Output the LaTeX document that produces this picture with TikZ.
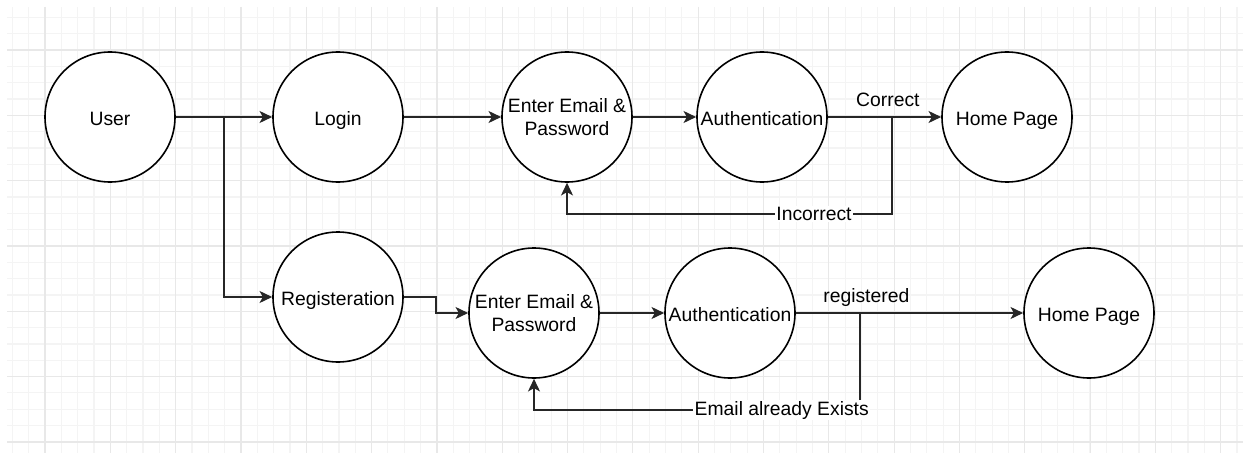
\documentclass[tikz,border=0pt]{standalone}
\usepackage{fontspec}
\setmainfont{Liberation Sans}
\usetikzlibrary{calc,arrows.meta}
\definecolor{gridminor}{HTML}{F4F4F4}
\definecolor{gridmajor}{HTML}{E8E8E8}
\tikzset{state/.style={circle, draw=black, line width=1.2pt, fill=white,
           minimum size=97.5pt, inner sep=0pt, align=center,
           text height=12pt, text depth=0pt,
           font=\fontsize{14.5}{17.3}\selectfont},
     two lines/.style={text height=28pt, text depth=0pt},
     flow/.style={draw=black!85, line width=1.2pt,
           -{Stealth[length=9.5pt, width=9pt, inset=2.5pt]}},
     edge label/.style={font=\fontsize{14.5}{17.3}\selectfont, inner sep=1pt},
     grid minor/.style={draw=gridminor, line width=0.9pt},
     grid major/.style={draw=gridmajor, line width=0.9pt}
     }
\def\State#1#2#3#4#5{%
\node[state, #4] (#1) at (#2,#3) {#5};
}
\def\Back#1#2#3{%
\draw[flow] (#1) -- ++(0,97) -| node[edge label, fill=white, pos=0.12] {#3} (#2.south);
}

\begin{document}
\begin{tikzpicture}[x=0.75pt, y=-0.75pt]
\useasboundingbox (0,0) rectangle (1250,460);
% grid
\foreach \i in {0,...,75}
  \draw[grid minor] ({12.3+16.33*\i},7) -- ++(0,446);
\foreach \j in {0,...,26}
  \draw[grid minor] (7,{17.3+16.33*\j}) -- ++(1236,0);
\foreach \i in {0,...,18}
  \draw[grid major] ({45+65.32*\i},7) -- ++(0,446);
\foreach \j in {0,...,6}
  \draw[grid major] (7,{50+65.33*\j}) -- ++(1236,0);

% login row
\State{user}{110}{117}{}{User}
\State{login}{338}{117}{}{Login}
\State{mail1}{567}{117}{two lines}{Enter Email \&\\Password}
\State{auth1}{762}{117}{}{Authentication}
\State{home1}{1007}{117}{}{Home Page}
% register row
\State{reg}{338}{297}{}{Registeration}
\State{mail2}{534}{313}{two lines}{Enter Email \&\\Password}
\State{auth2}{730}{313}{}{Authentication}
\State{home2}{1089}{313}{}{Home Page}

\coordinate (fork1) at (892,117);
\coordinate (fork2) at (860,313);

\draw[flow] (user) -- (login);
\draw[flow] (user.east) -- ++(48,0) |- (reg.west);
\draw[flow] (login) -- (mail1);
\draw[flow] (mail1) -- (auth1);
\draw[flow] (auth1) -- node[edge label, anchor=base, pos=0.53, yshift=7.5pt] {Correct} (home1);
\Back{fork1}{mail1}{Incorrect}

\draw[flow] (reg.east) -- ++(32,0) |- (mail2.west);
\draw[flow] (mail2) -- (auth2);
\draw[flow] (auth2) -- node[edge label, anchor=base, pos=0.31, yshift=8.2pt] {registered} (home2);
\Back{fork2}{mail2}{Email already Exists}
\end{tikzpicture}
\end{document}
